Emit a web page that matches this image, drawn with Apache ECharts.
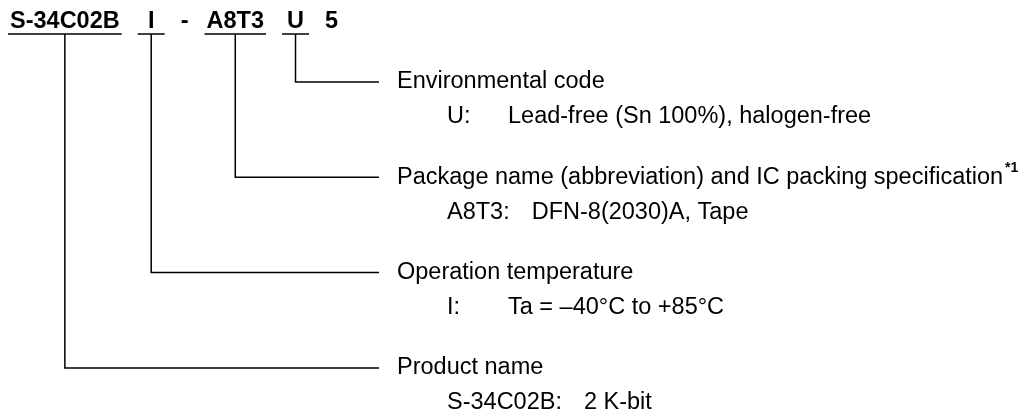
<!DOCTYPE html>
<html>
<head>
<meta charset="utf-8">
<script src="https://cdn.jsdelivr.net/npm/echarts@6/dist/echarts.min.js"></script>
<style>
  html, body { margin: 0; padding: 0; background: #fff; }
  #main { width: 1029px; height: 411px; }
</style>
</head>
<body>
<div id="main"></div>
<script>
// part number tokens (top row)
var tokens     = ['S-34C02B', 'I', '-', 'A8T3', 'U', '5'];
var underlined = [true, true, false, true, true, false];

// explanation rows, top to bottom
var rowToken = [4, 3, 1, 0];   // index into tokens
var headings = ['Environmental code',
                'Package name (abbreviation) and IC packing specification',
                'Operation temperature',
                'Product name'];
var notes    = ['', '*1', '', ''];
var keys     = ['U:', 'A8T3:', 'I:', 'S-34C02B:'];
var values   = ['Lead-free (Sn 100%), halogen-free',
                'DFN-8(2030)A, Tape',
                'Ta = \u201340\u00b0C to +85\u00b0C',
                '2 K-bit'];

var FONT = 'Liberation Sans, Arial, Helvetica, sans-serif';
var SIZE = 23.5;

var cvs = document.createElement('canvas').getContext('2d');
function textW(str, bold, size) {
    cvs.font = (bold ? 'bold ' : '') + (size || SIZE) + 'px ' + FONT;
    return cvs.measureText(str).width;
}

// layout of the top tokens
var tokStart = 8, tokGap = 16;
var tokBox = [];
var cur = tokStart;
tokens.forEach(function (t, i) {
    var w = textW(t, true);
    var bw = underlined[i] ? Math.max(w + 4, 27) : w;
    tokBox.push({ x0: cur, x1: cur + bw, c: cur + bw / 2 });
    cur += bw + tokGap;
});

var topTextY = 22, ulineY = 34;
var rowTop = 82, rowStep = 95.3, subGap = 35;
var leadEnd = 379, headX = 397, keyX = 447, valX = 508, keyGap = 22;

var chart = echarts.init(document.getElementById('main'));
var option = {
    backgroundColor: '#fff',
    animation: false,
    grid: { left: 0, right: 0, top: 0, bottom: 0 },
    xAxis: { type: 'value', min: 0, max: 1029, show: false },
    yAxis: { type: 'value', min: 0, max: 411, inverse: true, show: false },
    series: [
        {
            // top row: part number
            type: 'custom',
            coordinateSystem: 'cartesian2d',
            clip: false,
            silent: true,
            data: tokens.map(function (t, i) { return [i]; }),
            renderItem: function (params, api) {
                var i = api.value(0);
                var b = tokBox[i];
                var pc = api.coord([b.c, topTextY]);
                var p0 = api.coord([b.x0, ulineY]);
                var p1 = api.coord([b.x1, ulineY]);
                var kids = [{
                    type: 'text',
                    style: {
                        text: tokens[i], x: pc[0], y: pc[1],
                        align: 'center', verticalAlign: 'middle',
                        font: 'bold ' + SIZE + 'px ' + FONT, fill: '#000'
                    }
                }];
                if (underlined[i]) {
                    kids.push({
                        type: 'line',
                        shape: { x1: p0[0], y1: p0[1], x2: p1[0], y2: p1[1] },
                        style: { stroke: '#000', lineWidth: 1.5 }
                    });
                }
                return { type: 'group', children: kids };
            }
        },
        {
            // leader lines and explanations
            type: 'custom',
            coordinateSystem: 'cartesian2d',
            clip: false,
            silent: true,
            data: headings.map(function (h, i) { return [i]; }),
            renderItem: function (params, api) {
                var i = api.value(0);
                var y = rowTop + i * rowStep;
                var x = tokBox[rowToken[i]].c;
                var a = api.coord([x, ulineY]);
                var b = api.coord([x, y]);
                var c = api.coord([leadEnd, y]);
                var h = api.coord([headX, y]);
                var k = api.coord([keyX, y + subGap]);
                var vx = Math.max(valX, keyX + textW(keys[i], false) + keyGap);
                var v = api.coord([vx, y + subGap]);
                var kids = [
                    {
                        type: 'polyline',
                        shape: { points: [a, b, c] },
                        style: { stroke: '#000', lineWidth: 1.5, fill: null }
                    },
                    {
                        type: 'text',
                        style: {
                            text: headings[i], x: h[0], y: h[1],
                            align: 'left', verticalAlign: 'middle',
                            font: SIZE + 'px ' + FONT, fill: '#000'
                        }
                    },
                    {
                        type: 'text',
                        style: {
                            text: keys[i], x: k[0], y: k[1],
                            align: 'left', verticalAlign: 'middle',
                            font: SIZE + 'px ' + FONT, fill: '#000'
                        }
                    },
                    {
                        type: 'text',
                        style: {
                            text: values[i], x: v[0], y: v[1],
                            align: 'left', verticalAlign: 'middle',
                            font: SIZE + 'px ' + FONT, fill: '#000'
                        }
                    }
                ];
                if (notes[i]) {
                    var n = api.coord([headX + textW(headings[i], false) + 2, y - 9]);
                    kids.push({
                        type: 'text',
                        style: {
                            text: notes[i], x: n[0], y: n[1],
                            align: 'left', verticalAlign: 'middle',
                            font: 'bold 14px ' + FONT, fill: '#000'
                        }
                    });
                }
                return { type: 'group', children: kids };
            }
        }
    ]
};
chart.setOption(option);
</script>
</body>
</html>
